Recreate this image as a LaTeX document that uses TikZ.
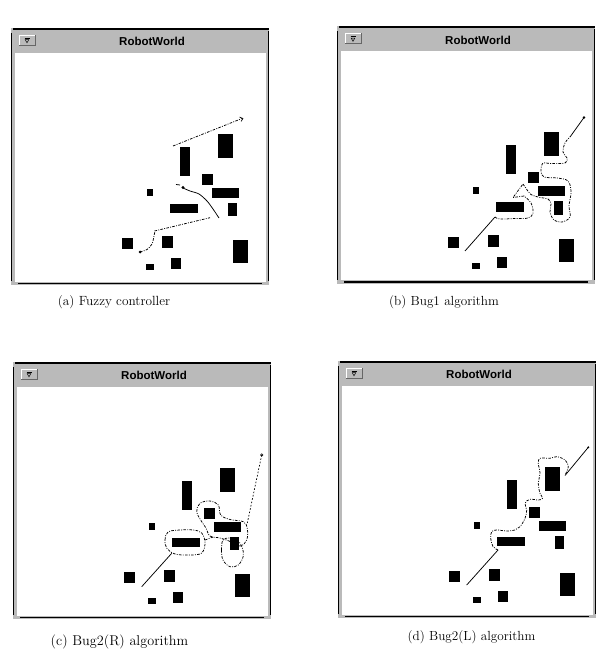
\documentclass[tikz,border=0pt]{standalone}
\usepackage{fontspec}
\newfontfamily\titlefont{Liberation Sans}
\newcommand\robotwindow[3]{%
\begin{scope}[shift={(#2,#3)}]
  \fill[framegray] (11,28) rectangle (269,285);
  \fill[white] (14.5,53) rectangle (266,281.5);
  \draw[line width=1.6pt] (13,28.8) -- (269,28.8);
  \draw[line width=1.3pt] (11.7,33) -- (11.7,281);
  \draw[line width=1.6pt] (18,283.5) -- (262,283.5);
  \draw[line width=0.6pt] (268.4,31) -- (268.4,281);
  \draw[white, line width=0.8pt] (19,45) |- (35,35);
  \draw[black!60, line width=0.8pt] (19,45) -- (35,45) -- (35,35);
  \draw[line width=0.6pt] (24.5,38.3) -- (29.5,38.3);
  \draw[line width=0.5pt] (25.2,39.6) -- (27,42.8) -- (28.8,39.6) -- cycle;
  \node[titletext] (#1-title) at (152,41.5) {RobotWorld};
  \fill[obst] (180,147) rectangle (190,176);
  \fill[obst] (218,134) rectangle (233,158);
  \fill[obst] (202,174) rectangle (213,185);
  \fill[obst] (212,188) rectangle (239,198);
  \fill[obst] (147,189) rectangle (153,196);
  \fill[obst] (170,204) rectangle (198,213);
  \fill[obst] (228,203) rectangle (237,216);
  \fill[obst] (122,238) rectangle (133,249);
  \fill[obst] (162,236) rectangle (173,248);
  \fill[obst] (233,240) rectangle (248,263);
  \fill[obst] (171,258) rectangle (181,269);
  \fill[obst] (146,264) rectangle (154,270);
\end{scope}}
\begin{document}
\begin{tikzpicture}[x=1pt,y=-1pt,
  obst/.style={black},
  framegray/.style={black!27},
  trail/.style={line width=0.75pt, dash pattern=on 2.6pt off 1.3pt on 0.9pt off 1.3pt},
  loosetrail/.style={line width=0.7pt, dash pattern=on 1.6pt off 1.8pt},
  solidtrail/.style={line width=0.75pt},
  titletext/.style={font=\titlefont\bfseries\fontsize{11.5}{13}\selectfont, inner sep=0pt},
  capt/.style={font=\fontsize{#1}{16}\selectfont, inner sep=0pt}]
\useasboundingbox (0,0) rectangle (606,652);
\fill[white] (0,0) rectangle (606,652);

\robotwindow{wa}{0}{0}
\robotwindow{wb}{326}{-1.5}
\robotwindow{wc}{2}{334}
\robotwindow{wd}{327}{333}

% (a) fuzzy controller
\fill (140,252) circle (1.5);
\draw[trail] plot[smooth] coordinates {(140,252) (147,249.5) (152,244) (154,236) (155,231)};
\draw[trail] (154.5,231) -- (210,217.7);
\draw[solidtrail] plot[smooth] coordinates {(183,188) (190,191) (199,194) (207,201) (213,209) (219,218)};
\fill (183,187.5) circle (1.6);
\draw[solidtrail] (176,184.5) -- (180,185);
\draw[trail] (173,146) -- (242,118.5);
\draw[line width=0.6pt] (239.5,117) -- (243,118.5) -- (241,121.5);

% (b) Bug1
\draw[solidtrail] (465,251) -- (495,217);
\draw[trail] plot[smooth, tension=0.6] coordinates {(495,217) (500,219) (515,218.5) (528,218) (533,213) (531,203) (524,196)};
\draw[trail] (524,196) -- (513,197.5) -- (523,184);
\draw[trail] plot[smooth, tension=0.6] coordinates {(523,184) (526.5,189) (531,194.5) (540,197.5) (548,199) (551,204) (550,212) (554,220) (562,222) (570,217) (569,206) (571,192) (568,181) (557,178) (544,177) (541,171) (543,163) (550,163.5) (565,163) (567,158) (563,152) (565,143) (570,137)};
\draw[solidtrail] (570,137) -- (584,117.5);
\fill (584,117.5) circle (1.3);

% (c) Bug2(R)
\draw[solidtrail] (141.7,586.7) -- (171.7,553.3);
\draw[trail] plot[smooth cycle, tension=0.6] coordinates {(166.7,548) (165,540) (168,532) (180,530) (193,530) (201.7,533) (205,543) (201.7,553) (190,555) (175,554)};
\draw[trail] (205,540) -- (213,537);
\draw[trail] plot[smooth cycle, tension=0.6] coordinates {(201.7,521.7) (196.7,511.7) (200,503.3) (210,501) (218.3,505) (220.7,515) (230,519.5) (243.3,521.7) (247.3,528.3) (246.7,540) (240,546) (229,541) (220,538) (210,536) (206,528)};
\draw[trail] plot[smooth cycle, tension=0.6] coordinates {(223,540) (221.5,550) (223,560) (230,566.7) (238.3,565) (243.3,556) (242,547) (238,541) (230,538)};
\draw[loosetrail] (261.7,455) -- (247.3,523);
\draw[line width=0.5pt] (261.7,455) circle (1.3);

% (d) Bug2(L)
\draw[solidtrail] (466.7,585) -- (498,550);
\draw[trail] plot[smooth, tension=0.6] coordinates {(498,550) (493,546.5) (490.7,538.3) (491.7,531.7) (496.7,530) (506.7,531) (515,530) (520,526.7) (525,518.3) (526.7,510) (525,503.3) (530,499.3) (538.3,500) (542.7,498.3) (540,493.3) (538.3,483.3) (540,473.3) (538.3,463.3) (540,458.3) (550,458.3) (556.7,456.7) (565,460) (568.3,466.7) (565,475)};
\draw[solidtrail] (565,475.5) -- (588.3,447.3);
\fill (588.3,447.3) circle (1.1);

% captions
\node[capt=13.3] (capa) at (114,302) {(a) Fuzzy controller};
\node[capt=13.2] (capb) at (444,302) {(b) Bug1 algorithm};
\node[capt=14.2] (capc) at (119.5,642) {(c) Bug2(R) algorithm};
\node[capt=13.2] (capd) at (471.5,637) {(d) Bug2(L) algorithm};
\end{tikzpicture}
\end{document}
